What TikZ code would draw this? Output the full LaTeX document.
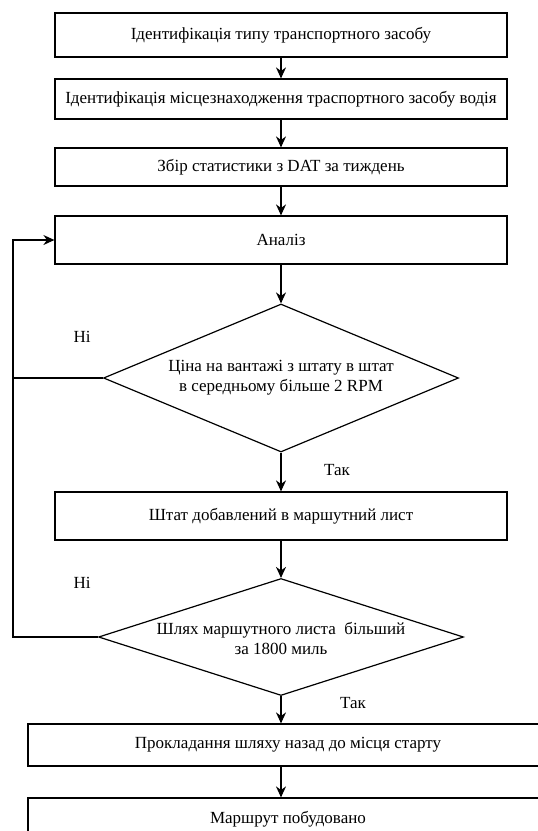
\documentclass[tikz,border=0pt]{standalone}
\usepackage{fontspec}
\setmainfont{Liberation Serif}
\newfontfamily\uafont{Liberation Serif}
\usetikzlibrary{arrows.meta, shapes.geometric, positioning}
\tikzset{>={Stealth[length=11pt,width=10pt]}}
\tikzset{box/.style={draw, rectangle, inner sep=0pt, minimum width=452},
	dia/.style={draw, diamond, inner sep=0pt}}

\begin{document}
\begin{tikzpicture}[x=1pt, y=-1pt, line width=1.2pt, font=\uafont\fontsize{17}{20}\selectfont]
	\useasboundingbox (0,0) rectangle (538,831);
	\clip (0,0) rectangle (538,831);
	\node[box, minimum height=44] (B1) at (281,35) {Ідентифікація типу транспортного засобу};
	\node[box, minimum height=40] (B2) at (281,99) {Ідентифікація місцезнаходження траспортного засобу водія};
	\node[box, minimum height=38] (B3) at (281,167) {Збір статистики з DAT за тиждень};
	\node[box, minimum height=48] (B4) at (281,240) {Аналіз};
	\node[dia, minimum width=355, minimum height=148] (D1) at (281,378) {};
	\node[align=center] (T1) at (D1.center) {Ціна на вантажі з штату в штат\\в середньому більше 2 RPM};
	\node[box, minimum height=48] (B5) at (281,516) {Штат добавлений в маршутний лист};
	\node[dia, minimum width=365, minimum height=117] (D2) at (281,637) {};
	\node[align=center] (T2) at (281,638) {Шлях маршутного листа~ більший\\за 1800 миль};
	\node[box, minimum width=520, minimum height=42] (B6) at (288,745) {Прокладання шляху назад до місця старту};
	\node[box, minimum width=520, minimum height=42] (B7) at (288,819) {Маршрут побудовано};
	% labels
	\node (N1) at (82,337) {Ні};  \node (Y1) at (337,470) {Так};
	\node (N2) at (82,583) {Ні};  \node (Y2) at (353,703) {Так};
	\coordinate (L1) at (13,240);
	\draw [->](B1)--(B2); \draw [->](B2)--(B3); \draw [->](B3)--(B4);
	\draw [->](B4.south)--(D1.north); \draw [->](D1.south)--(B5.north);
	\draw [->](B5.south)--(D2.north);
	\draw [->](D2.south)--(D2.south |- B6.north);
	\draw [->](B6.south -| D2.south)--(B7.north -| D2.south);
	\draw (D1.west)--(D1.west -| L1);
	\draw [->](D2.west) -| (L1) -- (B4.west);
\end{tikzpicture}
\end{document}
